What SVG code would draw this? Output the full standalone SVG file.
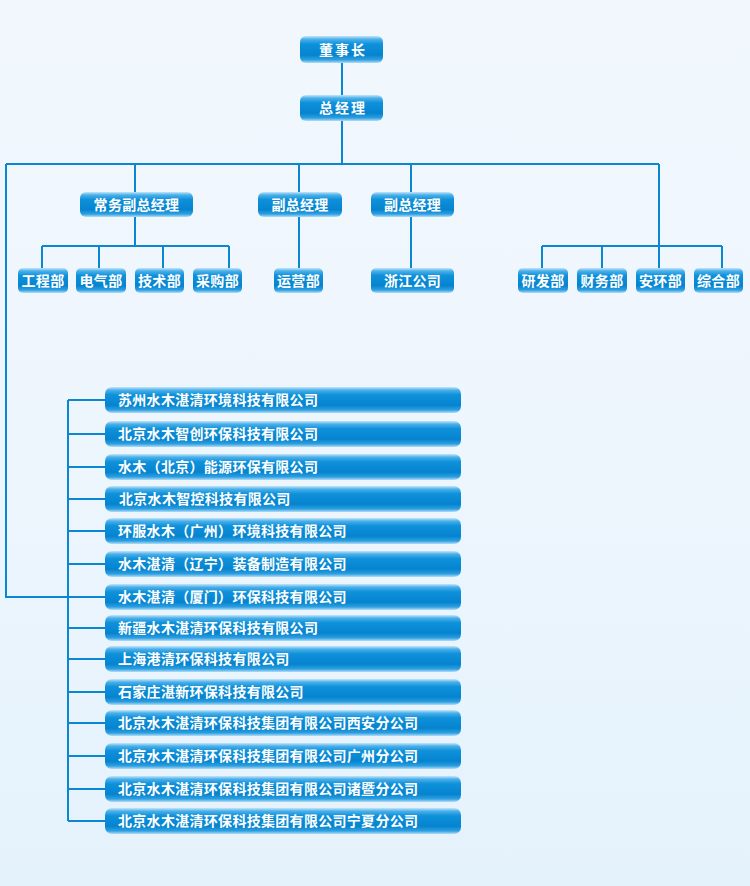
<svg xmlns="http://www.w3.org/2000/svg" width="750" height="886" viewBox="0 0 750 886">
<defs>
<linearGradient id="bg" x1="0" y1="0" x2="0" y2="1">
<stop offset="0" stop-color="#f1f7fd"/>
<stop offset="0.5" stop-color="#eef6fd"/>
<stop offset="1" stop-color="#e4f2fc"/>
</linearGradient>
<linearGradient id="box" x1="0" y1="0" x2="0" y2="1">
<stop offset="0" stop-color="#c4e6f9"/>
<stop offset="0.12" stop-color="#4cb0ea"/>
<stop offset="0.3" stop-color="#0f91da"/>
<stop offset="0.7" stop-color="#0583cf"/>
<stop offset="0.88" stop-color="#2d9fe1"/>
<stop offset="1" stop-color="#b3ddf6"/>
</linearGradient>
</defs>
<style>
.b{fill:url(#box)}
.t{font-family:"Noto Sans CJK SC","Liberation Sans",sans-serif;font-size:14px;font-weight:bold;fill:#ffffff;letter-spacing:0.3px}
.c{text-anchor:middle}
.w{letter-spacing:2px}
.ln{stroke:#0a86d3;stroke-width:2;fill:none}
</style>
<rect width="750" height="886" fill="url(#bg)"/>
<g id="connectors" class="ln">
<path d="M342 63V95M342 121V164M6 164H659M6 164V597H68"/>
<path d="M135 164V192M135 217V246M42 246H229M42 246V268M99 246V268M163 246V268M229 246V268"/>
<path d="M299 164V268M411 164V268"/>
<path d="M659 164V246M542 246H722M542 246V268M602 246V268M722 246V268M659 246V268"/>
<path d="M68 400V821M68 400H105M68 434H105M68 467H105M68 499H105M68 531H105M68 564H105M68 597H105M68 628H105M68 659H105M68 692H105M68 723H105M68 756H105M68 789H105M68 821H105"/>
</g>
<g id="n-dongshizhang"><rect class="b" x="300" y="36" width="83" height="27" rx="6"/><text class="t c w" x="343" y="54.5">董事长</text></g>
<g id="n-zongjingli"><rect class="b" x="300" y="95" width="83" height="26" rx="6"/><text class="t c w" x="343" y="113">总经理</text></g>
<g id="n-changwu"><rect class="b" x="80" y="192" width="113" height="25" rx="6"/><text class="t c" x="136.5" y="209.5">常务副总经理</text></g>
<g id="n-fuzong1"><rect class="b" x="258" y="192" width="84" height="25" rx="6"/><text class="t c" x="300" y="209.5">副总经理</text></g>
<g id="n-fuzong2"><rect class="b" x="371" y="192" width="83" height="25" rx="6"/><text class="t c" x="412.5" y="209.5">副总经理</text></g>
<g id="n-gongcheng"><rect class="b" x="18" y="268" width="50" height="25" rx="5"/><text class="t c" x="43" y="285.5">工程部</text></g>
<g id="n-dianqi"><rect class="b" x="76" y="268" width="50" height="25" rx="5"/><text class="t c" x="101" y="285.5">电气部</text></g>
<g id="n-jishu"><rect class="b" x="135" y="268" width="49" height="25" rx="5"/><text class="t c" x="159.5" y="285.5">技术部</text></g>
<g id="n-caigou"><rect class="b" x="193" y="268" width="49" height="25" rx="5"/><text class="t c" x="217.5" y="285.5">采购部</text></g>
<g id="n-yunying"><rect class="b" x="274" y="268" width="49" height="25" rx="5"/><text class="t c" x="298.5" y="285.5">运营部</text></g>
<g id="n-zhejiang"><rect class="b" x="371" y="268" width="83" height="25" rx="5"/><text class="t c" x="412.5" y="285.5">浙江公司</text></g>
<g id="n-yanfa"><rect class="b" x="518" y="268" width="50" height="25" rx="5"/><text class="t c" x="543" y="285.5">研发部</text></g>
<g id="n-caiwu"><rect class="b" x="577" y="268" width="50" height="25" rx="5"/><text class="t c" x="602" y="285.5">财务部</text></g>
<g id="n-anhuan"><rect class="b" x="636" y="268" width="49" height="25" rx="5"/><text class="t c" x="660.5" y="285.5">安环部</text></g>
<g id="n-zonghe"><rect class="b" x="694" y="268" width="49" height="25" rx="5"/><text class="t c" x="718.5" y="285.5">综合部</text></g>
<g id="co1"><rect class="b" x="105" y="387" width="356" height="26" rx="7"/><text class="t" x="118" y="405">苏州水木湛清环境科技有限公司</text></g>
<g id="co2"><rect class="b" x="105" y="421" width="356" height="26" rx="7"/><text class="t" x="118" y="439">北京水木智创环保科技有限公司</text></g>
<g id="co3"><rect class="b" x="105" y="454" width="356" height="26" rx="7"/><text class="t" x="118" y="472">水木（北京）能源环保有限公司</text></g>
<g id="co4"><rect class="b" x="105" y="486" width="356" height="26" rx="7"/><text class="t" x="119" y="504">北京水木智控科技有限公司</text></g>
<g id="co5"><rect class="b" x="105" y="518" width="356" height="26" rx="7"/><text class="t" x="118" y="536">环服水木（广州）环境科技有限公司</text></g>
<g id="co6"><rect class="b" x="105" y="551" width="356" height="26" rx="7"/><text class="t" x="118" y="569">水木湛清（辽宁）装备制造有限公司</text></g>
<g id="co7"><rect class="b" x="105" y="584" width="356" height="26" rx="7"/><text class="t" x="118" y="602">水木湛清（厦门）环保科技有限公司</text></g>
<g id="co8"><rect class="b" x="105" y="615" width="356" height="26" rx="7"/><text class="t" x="118" y="633">新疆水木湛清环保科技有限公司</text></g>
<g id="co9"><rect class="b" x="105" y="646" width="356" height="26" rx="7"/><text class="t" x="118" y="664">上海港清环保科技有限公司</text></g>
<g id="co10"><rect class="b" x="105" y="679" width="356" height="26" rx="7"/><text class="t" x="118" y="697">石家庄湛新环保科技有限公司</text></g>
<g id="co11"><rect class="b" x="105" y="710" width="356" height="26" rx="7"/><text class="t" x="118" y="728">北京水木湛清环保科技集团有限公司西安分公司</text></g>
<g id="co12"><rect class="b" x="105" y="743" width="356" height="26" rx="7"/><text class="t" x="118" y="761">北京水木湛清环保科技集团有限公司广州分公司</text></g>
<g id="co13"><rect class="b" x="105" y="776" width="356" height="26" rx="7"/><text class="t" x="118" y="794">北京水木湛清环保科技集团有限公司诸暨分公司</text></g>
<g id="co14"><rect class="b" x="105" y="808" width="356" height="26" rx="7"/><text class="t" x="118" y="826">北京水木湛清环保科技集团有限公司宁夏分公司</text></g>
</svg>
